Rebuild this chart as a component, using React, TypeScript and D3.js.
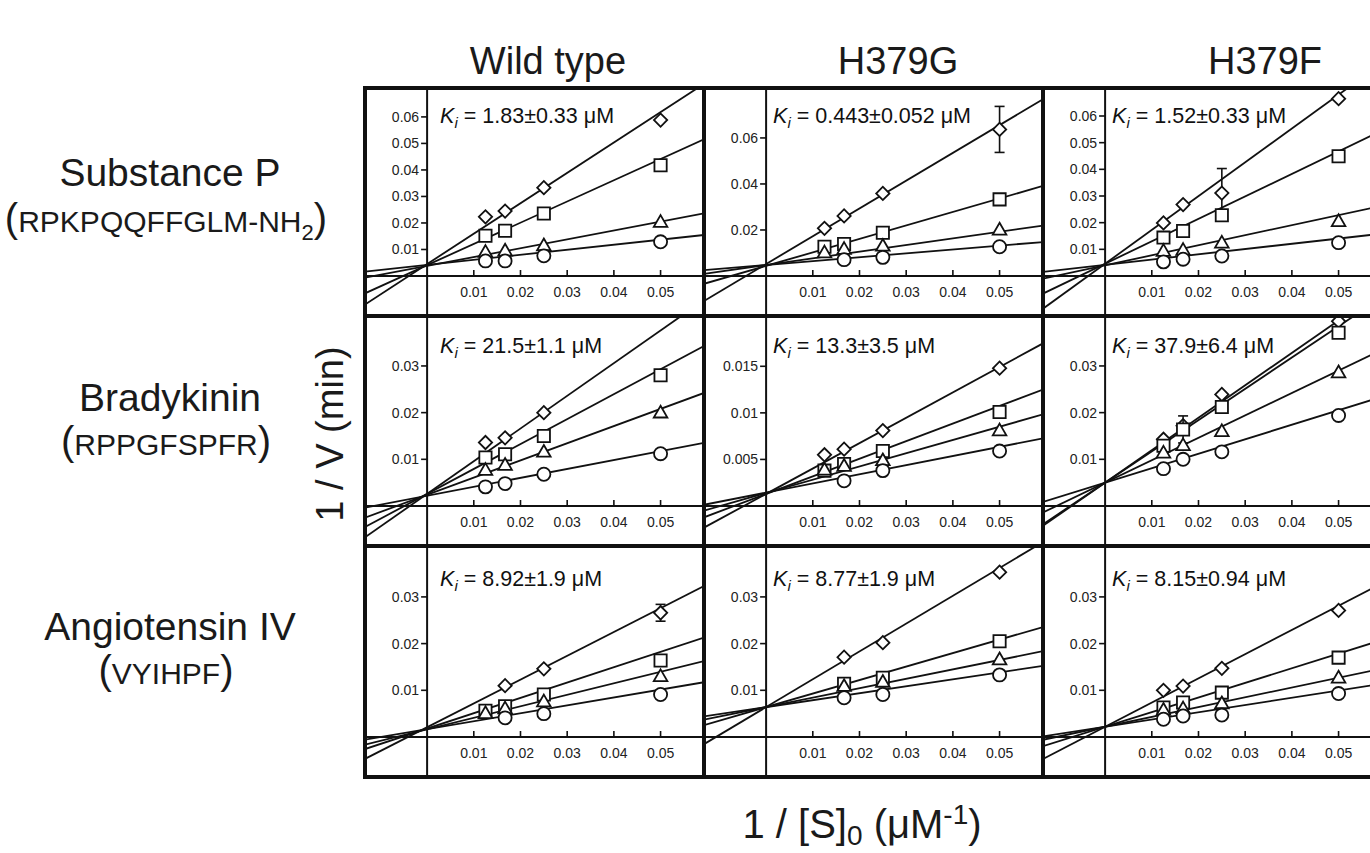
import React from "react";
import * as d3 from "d3";

// column / row headings
const columnTitles = ["Wild type", "H379G", "H379F"];
const peptideNames = ["Substance P", "Bradykinin", "Angiotensin IV"];
const peptideSeqs = ["RPKPQQFFGLM-NH", "RPPGFSPFR", "VYIHPF"];
const seqSubscripts = ["2", "", ""];

// x values: 1/[S]0 (uM-1)
const invS = [0.0125, 0.0167, 0.025, 0.05];
const xTicks = [0.01, 0.02, 0.03, 0.04, 0.05];
const xDomain = [-0.0133, 0.0593];

// panels are row-major: SP(WT, G, F), BK(WT, G, F), AngIV(WT, G, F)
const kiValues = ["1.83±0.33", "0.443±0.052", "1.52±0.33", "21.5±1.1", "13.3±3.5", "37.9±6.4", "8.92±1.9", "8.77±1.9", "8.15±0.94"];
const yMax = [0.0709, 0.0817, 0.0705, 0.0407, 0.0204, 0.0407, 0.0409, 0.0409, 0.0409];
const yTicks = [
  [0.01, 0.02, 0.03, 0.04, 0.05, 0.06],
  [0.02, 0.04, 0.06],
  [0.01, 0.02, 0.03, 0.04, 0.05, 0.06],
  [0.01, 0.02, 0.03],
  [0.005, 0.01, 0.015],
  [0.01, 0.02, 0.03],
  [0.01, 0.02, 0.03],
  [0.01, 0.02, 0.03],
  [0.01, 0.02, 0.03],
];

// 1/V per inhibitor level (circle < triangle < square < diamond), null = no point
const circleV = [
  [0.0057, 0.0057, 0.0076, 0.0129],
  [null, 0.0071, 0.0081, 0.0127],
  [0.0053, 0.0063, 0.0075, 0.0125],
  [0.0041, 0.0048, 0.0068, 0.0112],
  [null, 0.0027, 0.0038, 0.0059],
  [0.008, 0.01, 0.0116, 0.0194],
  [null, 0.0041, 0.005, 0.0091],
  [null, 0.0084, 0.0091, 0.0133],
  [0.0038, 0.0045, 0.0047, 0.0093],
];
const triangleV = [
  [0.0087, 0.0092, 0.0112, 0.02],
  [0.0098, 0.0113, 0.0127, 0.0197],
  [0.009, 0.0094, 0.0121, 0.0202],
  [0.0075, 0.0086, 0.0114, 0.0198],
  [0.0038, 0.0042, 0.0048, 0.008],
  [0.0112, 0.0128, 0.0158, 0.0284],
  [0.0049, 0.0059, 0.0074, 0.0128],
  [null, 0.0107, 0.0116, 0.0164],
  [0.0056, 0.0059, 0.007, 0.0125],
];
const squareV = [
  [0.0152, 0.0171, 0.0236, 0.0418],
  [0.0127, 0.0139, 0.0188, 0.0333],
  [0.0144, 0.0169, 0.0228, 0.0449],
  [0.0104, 0.0111, 0.015, 0.028],
  [0.0038, 0.0045, 0.0059, 0.0101],
  [0.0129, 0.0164, 0.0212, 0.0371],
  [0.0056, 0.0066, 0.0091, 0.0164],
  [null, 0.0114, 0.0127, 0.0205],
  [0.0063, 0.0074, 0.0095, 0.017],
];
const diamondV = [
  [0.0223, 0.0245, 0.0333, 0.0588],
  [0.0207, 0.0261, 0.0359, 0.0637],
  [0.0199, 0.0268, 0.0311, 0.0665],
  [0.0136, 0.0146, 0.02, null],
  [0.0055, 0.0061, 0.0081, 0.0148],
  [0.0143, 0.0172, 0.0239, 0.0396],
  [null, 0.011, 0.0146, 0.0266],
  [null, 0.0171, 0.0202, 0.0353],
  [0.01, 0.0109, 0.0147, 0.0271],
];

// fitted lines: slope and intercept per series (circle, triangle, square, diamond)
const slopes = [
  [0.19, 0.334, 0.8, 1.146],
  [0.168, 0.289, 0.586, 1.208],
  [0.197, 0.377, 0.842, 1.268],
  [0.191, 0.368, 0.534, 0.7],
  [0.0982, 0.1423, 0.189, 0.2725],
  [0.31, 0.48, 0.67, 0.695],
  [0.169, 0.246, 0.329, 0.51],
  [0.149, 0.202, 0.289, 0.596],
  [0.155, 0.21, 0.313, 0.518],
];
const intercepts = [
  [0.0042, 0.0038, 0.0041, 0.0045],
  [0.0048, 0.0048, 0.0044, 0.0052],
  [0.0042, 0.004, 0.0046, 0.0046],
  [0.0022, 0.0024, 0.0026, 0.0026],
  [0.00144, 0.0014, 0.0013, 0.0013],
  [0.005, 0.005, 0.005, 0.005],
  [0.0017, 0.00165, 0.0018, 0.0021],
  [0.0064, 0.0064, 0.0064, 0.0064],
  [0.0022, 0.0022, 0.0022, 0.0022],
];

// error bars: panel, series (0 circle .. 3 diamond), point index, +/- value
const errorBars = [
  { panel: 1, series: 3, point: 3, err: 0.01 },
  { panel: 2, series: 3, point: 2, err: 0.0092 },
  { panel: 5, series: 2, point: 1, err: 0.0029 },
  { panel: 6, series: 3, point: 3, err: 0.0018 },
];

const seriesValues = [circleV, triangleV, squareV, diamondV];

// layout
const colX = [365, 704, 1043, 1382];
const rowY = [88, 316, 546, 777];
const kiDx = [13, 7, 7];
const kiDy = [35, 37, 40];
const font = "'Liberation Sans', Arial, Helvetica, sans-serif";

const symbolPaths = [
  d3.symbol(d3.symbolCircle, 135)(),
  d3.symbol(d3.symbolTriangle, 80)(),
  d3.symbol(d3.symbolSquare, 150)(),
  d3.symbol(d3.symbolSquare, 88)(),
];
const symbolRotate = [0, 0, 0, 45];

function Panel({ p, x0, y0, w, h, col, row }: any) {
  const x = d3.scaleLinear().domain(xDomain).range([0, w]);
  const axisY = h - 40;
  const y = d3.scaleLinear().domain([0, yMax[p]]).range([axisY, 0]);
  const ax = x(0);
  const clipId = `clip-${p}`;

  return (
    <g transform={`translate(${x0},${y0})`}>
      <defs>
        <clipPath id={clipId}>
          <rect x={0} y={0} width={w} height={h} />
        </clipPath>
      </defs>
      <g clipPath={`url(#${clipId})`}>
        {/* fitted lines */}
        {slopes[p].map((s, si) => {
          const f = (v: number) => intercepts[p][si] + s * v;
          const path = d3
            .line<number>()
            .x((d) => x(d))
            .y((d) => y(f(d)))(xDomain);
          return <path key={si} d={path || ""} fill="none" stroke="#111" strokeWidth={1.8} />;
        })}
        {/* axes through origin */}
        <line x1={0} x2={w} y1={axisY} y2={axisY} stroke="#111" strokeWidth={2} />
        <line x1={ax} x2={ax} y1={0} y2={h} stroke="#111" strokeWidth={2} />
        {xTicks.map((t) => (
          <g key={t} transform={`translate(${x(t)},${axisY})`}>
            <line y1={0} y2={-6} stroke="#111" strokeWidth={1.6} />
            <text y={21} textAnchor="middle" fontSize={14} fontFamily={font} fill="#222">
              {String(t)}
            </text>
          </g>
        ))}
        {yTicks[p].map((t) => (
          <g key={t} transform={`translate(${ax},${y(t)})`}>
            <line x1={0} x2={-6} stroke="#111" strokeWidth={1.6} />
            <text x={-8} dy="0.35em" textAnchor="end" fontSize={14} fontFamily={font} fill="#222">
              {String(t)}
            </text>
          </g>
        ))}
        {/* markers, diamonds first so circles sit on top */}
        {[3, 2, 1, 0].map((si) => (
          <g key={si}>
            {errorBars
              .filter((e) => e.panel === p && e.series === si)
              .map((e, k) => {
                const v = seriesValues[si][p][e.point] as number;
                const cx = x(invS[e.point]);
                return (
                  <g key={k} stroke="#111" strokeWidth={1.6}>
                    <line x1={cx} x2={cx} y1={y(v - e.err)} y2={y(v + e.err)} />
                    <line x1={cx - 5} x2={cx + 5} y1={y(v + e.err)} y2={y(v + e.err)} />
                    <line x1={cx - 5} x2={cx + 5} y1={y(v - e.err)} y2={y(v - e.err)} />
                  </g>
                );
              })}
            {seriesValues[si][p].map((v, i) =>
              v == null ? null : (
                <path
                  key={i}
                  d={symbolPaths[si] || ""}
                  transform={`translate(${x(invS[i])},${y(v)}) rotate(${symbolRotate[si]})`}
                  fill="#fff"
                  stroke="#111"
                  strokeWidth={1.8}
                />
              )
            )}
          </g>
        ))}
      </g>
      <rect x={0} y={0} width={w} height={h} fill="none" stroke="#111" strokeWidth={4} />
      <text x={ax + kiDx[col]} y={kiDy[row]} fontSize={21.5} fontFamily={font} fill="#111">
        <tspan fontStyle="italic">K</tspan>
        <tspan fontStyle="italic" fontSize={15} dy={5}>
          i
        </tspan>
        <tspan dy={-5}>{` = ${kiValues[p]} μM`}</tspan>
      </text>
    </g>
  );
}

export default function App() {
  const width = 1370;
  const height = 853;
  const headerX = [548, 898, 1265];
  const nameY = [186, 411, 640];
  const seqY = [232, 455, 684];

  return (
    <svg
      width={width}
      height={height}
      style={{ position: "absolute", left: 0, top: 0, background: "#fff" }}
    >
      <rect width={width} height={height} fill="#fff" />
      {columnTitles.map((t, c) => (
        <text key={t} x={headerX[c]} y={74} textAnchor="middle" fontSize={38} fontFamily={font} fill="#1a1a1a">
          {t}
        </text>
      ))}
      {peptideNames.map((n, r) => (
        <g key={n}>
          <text x={170} y={nameY[r]} textAnchor="middle" fontSize={39} fontFamily={font} fill="#1a1a1a">
            {n}
          </text>
          <text x={166} y={seqY[r]} textAnchor="middle" fontFamily={font} fill="#1a1a1a">
            <tspan fontSize={40}>(</tspan>
            <tspan fontSize={30}>{peptideSeqs[r]}</tspan>
            {seqSubscripts[r] ? (
              <tspan fontSize={22} dy={8}>
                {seqSubscripts[r]}
              </tspan>
            ) : null}
            <tspan fontSize={40} dy={seqSubscripts[r] ? -8 : 0}>
              )
            </tspan>
          </text>
        </g>
      ))}
      <text
        transform="translate(343,434) rotate(-90)"
        textAnchor="middle"
        fontSize={38}
        fontFamily={font}
        fill="#1a1a1a"
      >
        1 / V (min)
      </text>
      <text x={862} y={838} textAnchor="middle" fontSize={40} fontFamily={font} fill="#1a1a1a">
        <tspan>1 / [S]</tspan>
        <tspan fontSize={28} dy={7}>
          0
        </tspan>
        <tspan dy={-7}> (μM</tspan>
        <tspan fontSize={28} dy={-14}>
          -1
        </tspan>
        <tspan dy={14}>)</tspan>
      </text>
      {[0, 1, 2].map((r) =>
        [0, 1, 2].map((c) => (
          <Panel
            key={`${r}-${c}`}
            p={r * 3 + c}
            row={r}
            col={c}
            x0={colX[c]}
            y0={rowY[r]}
            w={colX[c + 1] - colX[c]}
            h={rowY[r + 1] - rowY[r]}
          />
        ))
      )}
    </svg>
  );
}
